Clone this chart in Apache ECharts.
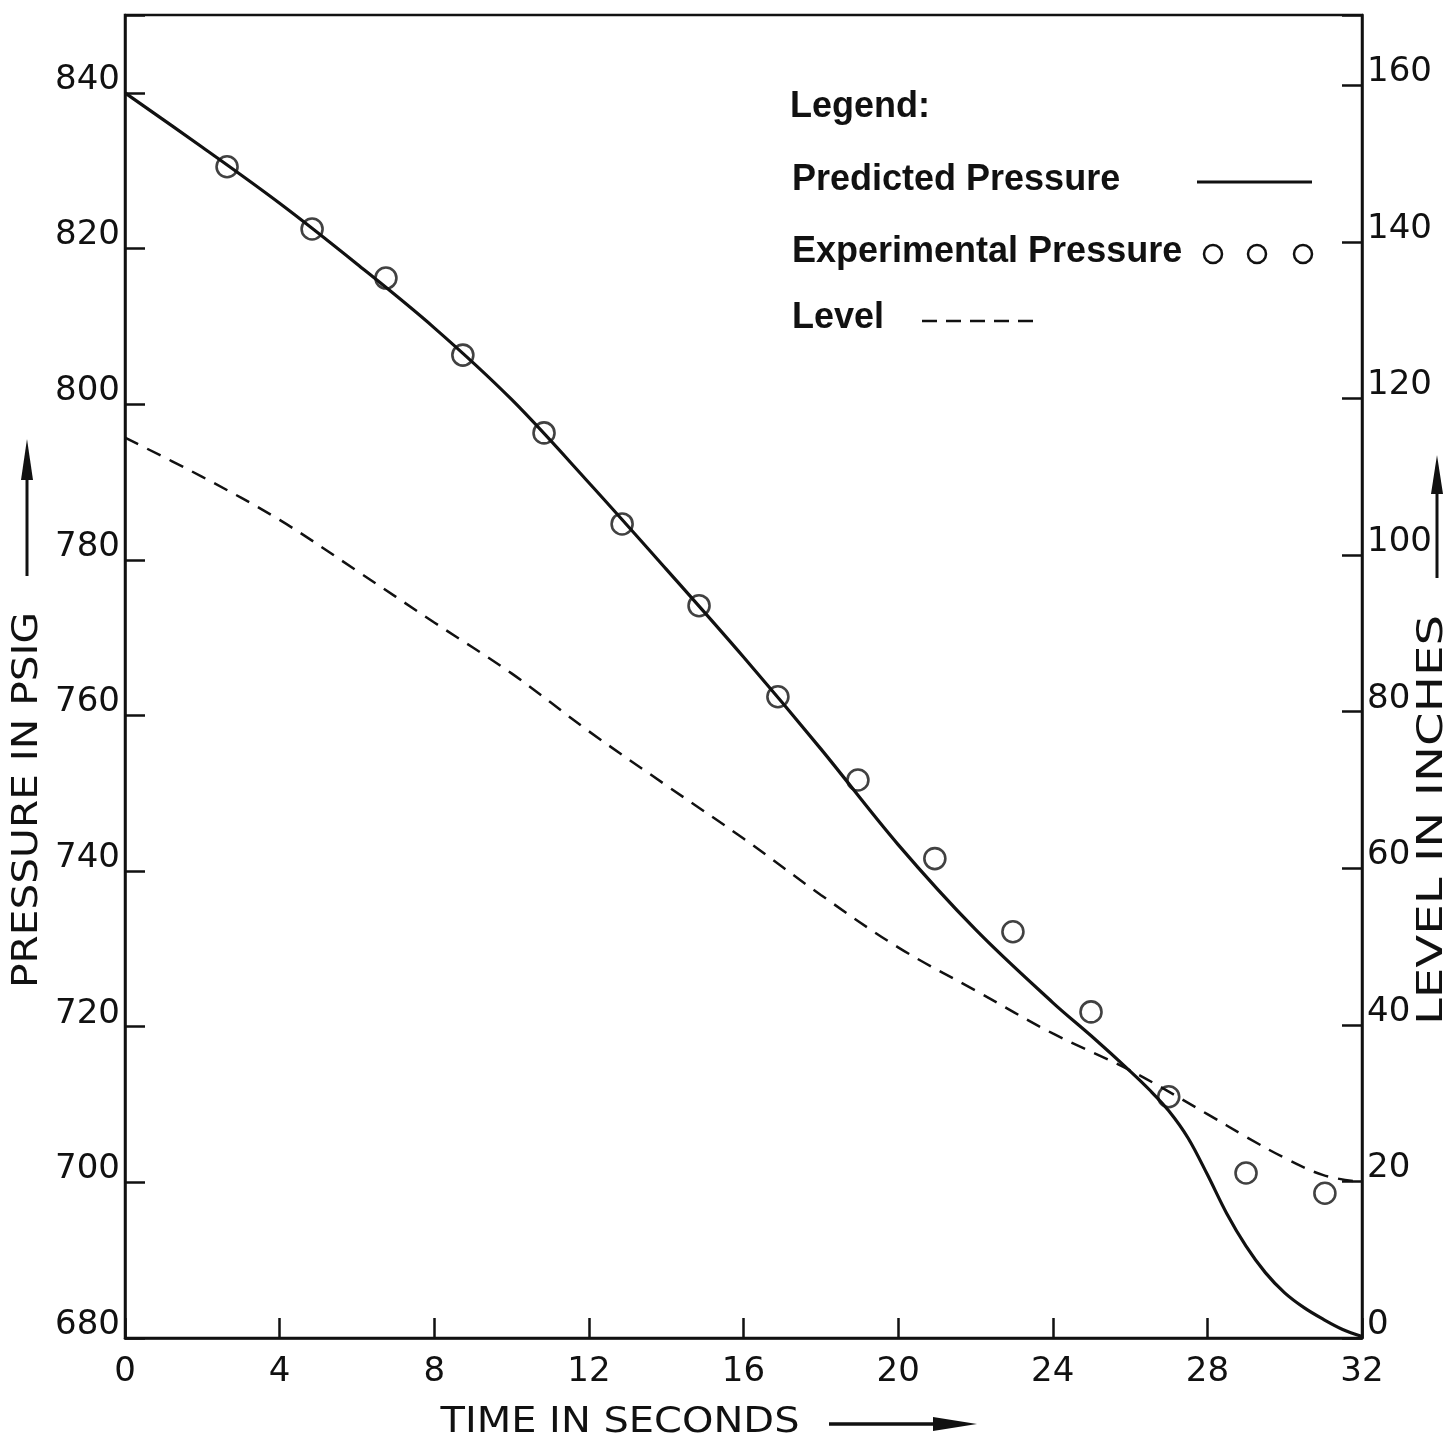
<!DOCTYPE html>
<html>
<head>
<meta charset="utf-8">
<script src="https://cdn.jsdelivr.net/npm/echarts@6/dist/echarts.min.js"></script>
<style>
  html, body { margin: 0; padding: 0; background: #ffffff; }
  #chart { width: 1451px; height: 1445px; }
</style>
</head>
<body>
<div id="chart"></div>
<script>
// ---- Data ----
const predictedTime     = [0, 2, 4, 6, 8, 10, 12, 14, 16, 18, 20, 22, 24, 25, 26, 26.5, 27, 27.5, 28, 28.5, 29, 29.5, 30, 30.5, 31, 31.5, 32];
const predictedPressure = [840.0, 833.0, 825.8, 818.0, 809.8, 800.6, 789.9, 778.8, 767.5, 755.7, 743.4, 732.5, 723.1, 718.8, 714.3, 711.9, 709.2, 705.7, 701.0, 696.0, 691.8, 688.4, 685.8, 683.9, 682.4, 681.1, 680.2];

const experimentalTime     = [2.64, 4.84, 6.75, 8.74, 10.84, 12.86, 14.85, 16.89, 18.96, 20.95, 22.97, 24.99, 27.0, 29.0, 31.04];
const experimentalPressure = [830.5, 822.5, 816.2, 806.3, 796.3, 784.6, 774.1, 762.4, 751.7, 741.6, 732.2, 721.9, 711.0, 701.2, 698.6];

const levelTime   = [0, 2, 4, 6, 8, 10, 12, 14, 16, 18, 20, 22, 24, 26, 28, 29, 30, 31, 32];
const levelInches = [115.0, 110.0, 104.5, 98.0, 91.4, 84.9, 77.5, 70.6, 63.8, 56.6, 49.9, 44.4, 38.9, 34.2, 28.6, 25.7, 23.0, 20.8, 19.9];

const timeAxis     = { min: 0, max: 32, step: 4 };
const pressureAxis = { min: 680, max: 850, step: 20 };
const levelAxis    = { min: 0, max: 169, step: 20 };

const xTitle      = 'TIME IN SECONDS';
const yLeftTitle  = 'PRESSURE IN PSIG';
const yRightTitle = 'LEVEL IN INCHES';
const legendTitle = 'Legend:';
const seriesNames = ['Predicted Pressure', 'Experimental Pressure', 'Level'];

// ---- Build chart ----
const zip = (a, b) => a.map((v, i) => [v, b[i]]);
const INK = '#111111';
const numFont = '"DejaVu Sans", sans-serif';

const chart = echarts.init(document.getElementById('chart'), null, { renderer: 'canvas' });

function yAxisCommon(cfg, position) {
  return {
    type: 'value',
    position: position,
    min: cfg.min, max: cfg.max, interval: cfg.step,
    axisLine: { show: true, onZero: false, lineStyle: { color: INK, width: 2.5 } },
    axisTick: { show: true, inside: true, length: 20, lineStyle: { color: INK, width: 2.5 } },
    splitLine: { show: false },
    axisLabel: {
      show: true, margin: 5, color: INK, fontSize: 34, fontFamily: numFont,
      verticalAlign: 'bottom', lineHeight: 26,
      formatter: v => (Math.abs(v % cfg.step) < 1e-9 ? String(v) : '')
    }
  };
}

const option = {
  backgroundColor: '#ffffff',
  animation: false,
  grid: {
    show: true, left: 125, right: 89, top: 15, bottom: 107,
    borderColor: INK, borderWidth: 2.5, backgroundColor: 'transparent'
  },
  xAxis: {
    type: 'value',
    min: timeAxis.min, max: timeAxis.max, interval: timeAxis.step,
    axisLine: { show: true, onZero: false, lineStyle: { color: INK, width: 2.5 } },
    axisTick: { show: true, inside: true, length: 20, lineStyle: { color: INK, width: 2.5 } },
    splitLine: { show: false },
    axisLabel: { margin: 17, color: INK, fontSize: 34, fontFamily: numFont }
  },
  yAxis: [
    yAxisCommon(pressureAxis, 'left'),
    yAxisCommon(levelAxis, 'right')
  ],
  series: [
    {
      name: seriesNames[0], type: 'line', yAxisIndex: 0,
      data: zip(predictedTime, predictedPressure),
      smooth: 0.35, showSymbol: false, symbol: 'none',
      lineStyle: { color: INK, width: 3.2 }, z: 3
    },
    {
      name: seriesNames[1], type: 'scatter', yAxisIndex: 0,
      data: zip(experimentalTime, experimentalPressure),
      symbol: 'circle', symbolSize: 21,
      itemStyle: { color: 'rgba(0,0,0,0)', borderColor: INK, borderWidth: 2.6 }, z: 4
    },
    {
      name: seriesNames[2], type: 'line', yAxisIndex: 1,
      data: zip(levelTime, levelInches),
      smooth: 0.35, showSymbol: false, symbol: 'none',
      lineStyle: { color: INK, width: 2.5, type: [15, 10] }, z: 2
    }
  ],
  graphic: [
    // Legend block
    { type: 'text', x: 790, y: 107, style: { text: legendTitle, fill: INK, font: 'bold 36px "Liberation Sans"', align: 'left', verticalAlign: 'middle' } },
    { type: 'text', x: 792, y: 180, style: { text: seriesNames[0], fill: INK, font: 'bold 36px "Liberation Sans"', align: 'left', verticalAlign: 'middle' } },
    { type: 'line', shape: { x1: 1197, y1: 182, x2: 1312, y2: 182 }, style: { stroke: INK, lineWidth: 3 } },
    { type: 'text', x: 792, y: 252, style: { text: seriesNames[1], fill: INK, font: 'bold 36px "Liberation Sans"', align: 'left', verticalAlign: 'middle' } },
    { type: 'circle', shape: { cx: 1213, cy: 254, r: 9 }, style: { fill: 'none', stroke: INK, lineWidth: 2.5 } },
    { type: 'circle', shape: { cx: 1257, cy: 254, r: 9 }, style: { fill: 'none', stroke: INK, lineWidth: 2.5 } },
    { type: 'circle', shape: { cx: 1303, cy: 254, r: 9 }, style: { fill: 'none', stroke: INK, lineWidth: 2.5 } },
    { type: 'text', x: 792, y: 318, style: { text: seriesNames[2], fill: INK, font: 'bold 36px "Liberation Sans"', align: 'left', verticalAlign: 'middle' } },
    { type: 'line', shape: { x1: 922, y1: 321, x2: 1034, y2: 321 }, style: { stroke: INK, lineWidth: 2.5, lineDash: [15, 9] } },

    // Axis titles
    { type: 'text', x: 620, y: 1423, scaleX: 1.11, style: { text: xTitle, fill: INK, font: '36px "DejaVu Sans"', align: 'center', verticalAlign: 'middle' } },
    { type: 'line', shape: { x1: 829, y1: 1424, x2: 950, y2: 1424 }, style: { stroke: INK, lineWidth: 3.5 } },
    { type: 'polygon', shape: { points: [[977, 1424], [933, 1417], [933, 1431]] }, style: { fill: INK } },

    { type: 'text', x: 28, y: 800, rotation: Math.PI / 2, scaleX: 1.13, style: { text: yLeftTitle, fill: INK, font: '36px "DejaVu Sans"', align: 'center', verticalAlign: 'middle' } },
    { type: 'line', shape: { x1: 27, y1: 576, x2: 27, y2: 470 }, style: { stroke: INK, lineWidth: 3 } },
    { type: 'polygon', shape: { points: [[27, 439], [21, 480], [33, 480]] }, style: { fill: INK } },

    { type: 'text', x: 1433, y: 820, rotation: Math.PI / 2, scaleX: 1.34, style: { text: yRightTitle, fill: INK, font: '36px "DejaVu Sans"', align: 'center', verticalAlign: 'middle' } },
    { type: 'line', shape: { x1: 1437, y1: 578, x2: 1437, y2: 486 }, style: { stroke: INK, lineWidth: 3 } },
    { type: 'polygon', shape: { points: [[1437, 455], [1431, 494], [1443, 494]] }, style: { fill: INK } }
  ]
};

chart.setOption(option);
</script>
</body>
</html>
